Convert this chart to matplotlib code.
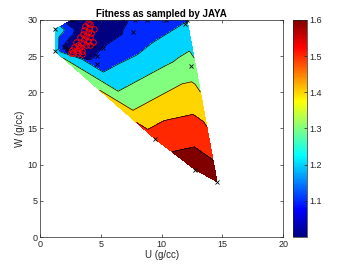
import matplotlib
matplotlib.use('Agg')
import numpy as np
import matplotlib.pyplot as plt
import matplotlib.tri as mtri
from matplotlib.colors import Normalize, ListedColormap

plt.rcParams['font.family'] = ['Liberation Sans', 'DejaVu Sans']

# sampled points (black x), U, W and fitness
u_samples = [1.21, 1.21, 2.61, 7.81, 8.77, 10.34, 12.08, 11.94, 7.62, 5.15,
             4.65, 4.65, 12.40, 9.46, 12.76, 14.55, 1.96, 2.31, 4.37]
w_samples = [28.70, 25.70, 30.00, 30.00, 30.00, 30.00, 30.00, 29.45, 28.40, 26.10,
             24.95, 23.95, 23.70, 13.55, 9.30, 7.65, 26.20, 26.00, 26.40]
fit_samples = [1.29, 1.28, 1.00, 1.115, 1.13, 1.16, 1.19, 1.205, 1.125, 1.105,
               1.11, 1.156, 1.35, 1.55, 1.67, 1.66, 1.08, 1.04, 1.05]

# JAYA population (red circles)
u_jaya = [3.9, 4.1, 3.7, 4.0, 3.6, 3.9, 4.2, 3.5, 3.8, 4.1, 3.6, 3.9, 4.3, 3.5, 3.8,
          4.1, 3.3, 4.4, 2.9, 3.1, 2.8, 3.2, 2.6, 3.0, 3.4, 2.7, 3.1, 3.4, 2.5, 3.3]
w_jaya = [29.6, 29.4, 29.2, 28.9, 28.6, 28.4, 28.2, 28.0, 27.8, 27.6, 27.4, 27.1, 27.0,
          26.8, 26.6, 26.5, 27.7, 28.7, 27.0, 26.6, 26.3, 26.1, 25.9, 25.8, 25.7, 25.5,
          25.4, 25.3, 25.4, 26.3]
fit_jaya = [1.02, 1.02, 1.02, 1.02, 1.01, 1.01, 1.02, 1.01, 1.01, 1.02, 1.01, 1.02, 1.03,
            1.01, 1.01, 1.02, 1.02, 1.03, 1.02, 1.01, 1.01, 1.01, 1.02, 1.01, 1.01, 1.01,
            1.01, 1.02, 1.03, 1.01]

levels = [0.9, 1.1, 1.2, 1.3, 1.4, 1.5, 1.6, 1.8]
band_values = [1.0, 1.1, 1.2, 1.3, 1.4, 1.5, 1.6]


# matlab style jet
def matlab_jet(n=64):
    x = np.linspace(0, 1, n)
    r = np.clip(1.5 - np.abs(4 * x - 3), 0, 1)
    g = np.clip(1.5 - np.abs(4 * x - 2), 0, 1)
    b = np.clip(1.5 - np.abs(4 * x - 1), 0, 1)
    return ListedColormap(np.column_stack([r, g, b]))


cmap = matlab_jet(256)
norm = Normalize(vmin=1.0, vmax=1.6)

u_all = np.array(u_samples + u_jaya)
w_all = np.array(w_samples + w_jaya)
f_all = np.array(fit_samples + fit_jaya)
tri = mtri.Triangulation(u_all, w_all)

fig = plt.figure(figsize=(3.54, 2.66), dpi=100)
ax = fig.add_axes([0.114, 0.109, 0.686, 0.816])

ax.tricontourf(tri, f_all, levels=levels, colors=[cmap(norm(v)) for v in band_values])
ax.tricontour(tri, f_all, levels=levels[1:-1], colors='k', linewidths=0.5)

ax.plot(u_samples, w_samples, 'x', color='k', ms=3.5, mew=0.6)
ax.plot(u_jaya, w_jaya, 'o', color='r', mfc='none', ms=4, mew=0.7)

grey = '#262626'
ax.set_xlim(0, 20)
ax.set_ylim(0, 30)
ax.set_xticks([0, 5, 10, 15, 20])
ax.set_yticks([0, 5, 10, 15, 20, 25, 30])
ax.tick_params(direction='in', top=True, right=True, length=2.5, width=0.5,
               labelsize=6.5, colors=grey, pad=2)
for s in ax.spines.values():
    s.set_linewidth(0.5)
    s.set_color(grey)
ax.set_xlabel('U (g/cc)', fontsize=7, color=grey, labelpad=1)
ax.set_ylabel('W (g/cc)', fontsize=7, color=grey, labelpad=2)
ax.set_title('Fitness as sampled by JAYA', fontsize=7, fontweight='bold', pad=2)

cax = fig.add_axes([0.828, 0.109, 0.039, 0.816])
sm = plt.cm.ScalarMappable(norm=norm, cmap=cmap)
cb = fig.colorbar(sm, cax=cax, ticks=[1.1, 1.2, 1.3, 1.4, 1.5, 1.6])
cb.ax.tick_params(direction='in', length=2.5, width=0.5, labelsize=6.5, colors=grey, pad=2)
cb.outline.set_linewidth(0.5)
cb.outline.set_edgecolor(grey)

fig.savefig('out.png', dpi=100)
